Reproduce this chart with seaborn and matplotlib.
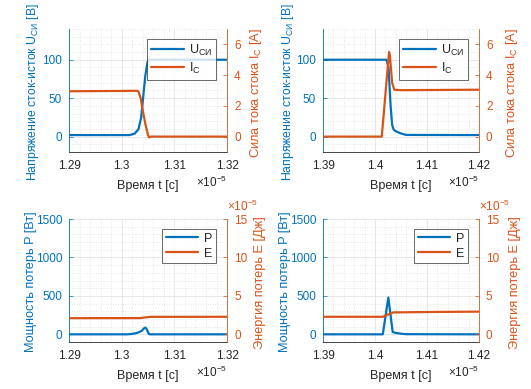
import numpy as np
import pandas as pd
import seaborn as sns
import matplotlib.pyplot as plt
from matplotlib.ticker import MultipleLocator, AutoMinorLocator, FuncFormatter

# ---------------- data (time in units of 1e-5 s) ----------------
t_off_u = [1.29, 1.3015, 1.3025, 1.3032, 1.3037, 1.3042, 1.3045, 1.3049, 1.3052, 1.32]
u_off = [2, 2, 4, 10, 25, 60, 80, 97, 100, 100]
t_off_i = [1.29, 1.3, 1.303, 1.3032, 1.3036, 1.304, 1.3045, 1.305, 1.3052, 1.3055, 1.32]
i_off = [2.95, 2.97, 2.98, 2.92, 2.5, 1.7, 0.8, 0.1, -0.05, 0.0, 0.0]

t_on_u = [1.39, 1.4022, 1.4026, 1.403, 1.4033, 1.4036, 1.404, 1.405, 1.406, 1.42]
u_on = [100, 100, 90, 40, 15, 9, 7, 4, 2.2, 2]
t_on_i = [1.39, 1.4013, 1.4027, 1.40285, 1.4033, 1.4037, 1.405, 1.42]
i_on = [0, 0, 5.5, 5.3, 3.5, 3.05, 3.02, 3.05]

t_off_p = [1.29, 1.301, 1.302, 1.303, 1.3038, 1.3042, 1.3045, 1.3048, 1.3051, 1.3053, 1.32]
p_off = [0, 0, 5, 20, 45, 75, 88, 60, 10, 0, 0]
# energy in units of 1e-5 J
t_off_e = [1.29, 1.3035, 1.3045, 1.3055, 1.32]
e_off = [2.1, 2.11, 2.2, 2.27, 2.28]

t_on_p = [1.39, 1.4015, 1.40256, 1.4034, 1.404, 1.405, 1.406, 1.42]
p_on = [0, 0, 479, 30, 18, 8, 2, 0]
t_on_e = [1.39, 1.4015, 1.4035, 1.41, 1.42]
e_on = [2.28, 2.28, 2.85, 2.9, 2.95]

BLUE = '#0072BD'
ORANGE = '#D95319'
DARK = '#262626'

sns.set_theme(style='white')
plt.rcParams['font.family'] = ['Liberation Sans', 'DejaVu Sans']
plt.rcParams['mathtext.fontset'] = 'custom'
plt.rcParams['mathtext.rm'] = 'Liberation Sans'
plt.rcParams['mathtext.it'] = 'Liberation Sans:italic'
plt.rcParams['axes.unicode_minus'] = False
FS = 8.5
EXP = r'$\times\mathrm{10}^{\mathrm{-5}}$'

fmt = FuncFormatter(lambda v, p: '%g' % round(v, 4))


def make_panel(rect, tl, yl, tr, yr, xlim, ylim_l, ylim_r, ystep_l, ystep_r,
               names, label_l, label_r, lab_x_l, lab_x_r, yfs_l, right_exp=False):
    ax = fig.add_axes(rect)
    ax2 = ax.twinx()
    sns.lineplot(x=tl, y=yl, ax=ax, color=BLUE, lw=1.6)
    sns.lineplot(x=tr, y=yr, ax=ax2, color=ORANGE, lw=1.6)

    ax.set_xlim(*xlim)
    ax.set_ylim(*ylim_l)
    ax2.set_ylim(*ylim_r)
    ax.xaxis.set_major_locator(MultipleLocator(0.01))
    ax.xaxis.set_minor_locator(AutoMinorLocator(5))
    ax.xaxis.set_major_formatter(fmt)
    ax.yaxis.set_major_locator(MultipleLocator(ystep_l))
    ax.yaxis.set_minor_locator(AutoMinorLocator(5))
    ax2.yaxis.set_major_locator(MultipleLocator(ystep_r))
    ax2.yaxis.set_major_formatter(fmt)

    ax.grid(which='major', color='#e3e3e3', lw=0.6, ls='-')
    ax.grid(which='minor', color='#d3d3d3', lw=0.5, ls=(0, (1, 2.5)))
    ax.set_axisbelow(True)

    for s in ['top', 'right']:
        ax.spines[s].set_visible(False)
    for s in ['top', 'left', 'bottom']:
        ax2.spines[s].set_visible(False)
    ax.spines['left'].set_color(BLUE)
    ax.spines['bottom'].set_color(DARK)
    ax2.spines['right'].set_color(ORANGE)
    for s in [ax.spines['left'], ax.spines['bottom'], ax2.spines['right']]:
        s.set_linewidth(0.6)

    ax.tick_params(axis='x', which='major', direction='in', length=3, width=0.5,
                   colors=DARK, labelsize=FS, pad=6, top=False)
    ax.tick_params(axis='y', which='major', direction='in', length=3, width=0.5,
                   colors=BLUE, labelsize=FS, pad=5, left=True)
    ax.tick_params(which='minor', length=0)
    ax2.tick_params(axis='y', which='major', direction='in', length=3, width=0.5,
                    colors=ORANGE, labelsize=FS, pad=5, right=True)

    ax.text(1.0, -0.25, EXP, transform=ax.transAxes, ha='right', va='center',
            fontsize=FS, color=DARK)
    if right_exp:
        ax.text(1.0, 1.04, EXP, transform=ax.transAxes, ha='left', va='bottom',
                fontsize=FS, color=ORANGE)

    ax.set_xlabel('Время t [c]', fontsize=9, color=DARK)
    ax.xaxis.set_label_coords(0.5, -0.23)
    ax.set_ylabel(label_l, fontsize=yfs_l, color=BLUE)
    ax.yaxis.set_label_coords(lab_x_l, 0.49)
    ax2.set_ylabel(label_r, fontsize=9.2, color=ORANGE)
    ax2.yaxis.set_label_coords(lab_x_r, 0.48)

    h = [ax.get_lines()[0], ax2.get_lines()[0]]
    leg = ax2.legend(h, names, loc='upper right', bbox_to_anchor=(0.93, 0.92),
                     fontsize=9, handlelength=2.6, frameon=True,
                     fancybox=False, borderpad=0.3, labelspacing=0.25,
                     handletextpad=0.45, borderaxespad=0)
    leg.get_frame().set_edgecolor(DARK)
    leg.get_frame().set_linewidth(0.6)
    return ax, ax2


fig = plt.figure(figsize=(5.31, 3.89), dpi=100)

lab_u = r'Напряжение сток-исток U$_{\mathrm{СИ}}$ [В]'
lab_i = r'Сила тока стока I$_{\mathrm{C}}$ [А]'
lab_p = 'Мощность потерь P [Вт]'
lab_e = 'Энергия потерь E [Дж]'
names_ui = [r'U$_{\mathrm{СИ}}$', r'I$_{\mathrm{C}}$']
names_pe = ['P', 'E']

make_panel([0.130, 0.6093, 0.2976, 0.3162], t_off_u, u_off, t_off_i, i_off,
           (1.29, 1.32), (-20, 140), (-1, 7), 50, 2,
           names_ui, lab_u, lab_i, -0.18, 1.13, 8.8)
make_panel([0.6083, 0.6093, 0.2938, 0.3162], t_on_u, u_on, t_on_i, i_on,
           (1.39, 1.42), (-20, 140), (-1, 7), 50, 2,
           names_ui, lab_u, lab_i, -0.17, 1.16, 8.8)
make_panel([0.130, 0.1208, 0.2976, 0.3162], t_off_p, p_off, t_off_e, e_off,
           (1.29, 1.32), (-100, 1500), (-1, 15), 500, 5,
           names_pe, lab_p, lab_e, -0.2, 1.17, 9.2, right_exp=True)
make_panel([0.6083, 0.1208, 0.2938, 0.3162], t_on_p, p_on, t_on_e, e_on,
           (1.39, 1.42), (-100, 1500), (-1, 15), 500, 5,
           names_pe, lab_p, lab_e, -0.205, 1.19, 9.2, right_exp=True)

fig.savefig('out.png', dpi=100)
